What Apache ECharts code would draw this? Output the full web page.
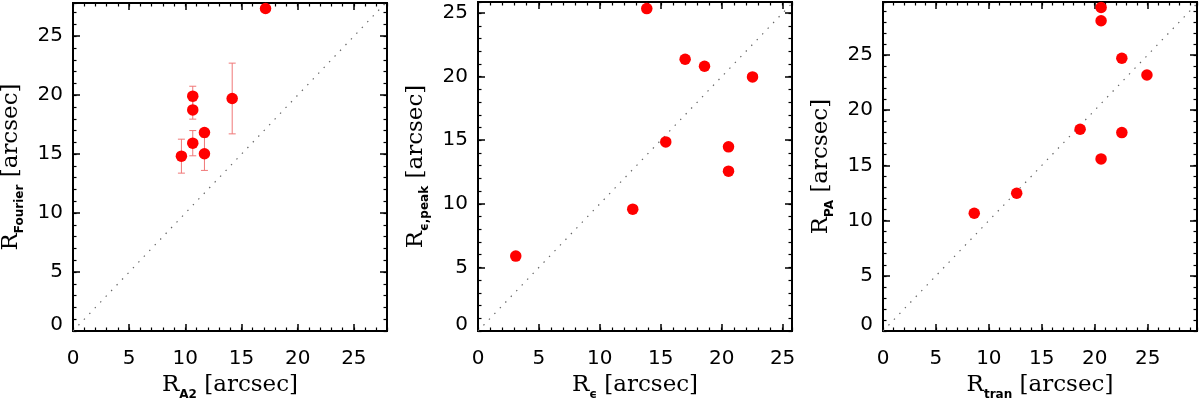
<!DOCTYPE html>
<html>
<head>
<meta charset="utf-8">
<script src="https://cdn.jsdelivr.net/npm/echarts@6/dist/echarts.min.js"></script>
<style>html,body{margin:0;padding:0;background:#fff}#c{width:1200px;height:399px}</style>
</head>
<body>
<div id="c"></div>
<script>
// ---- data ----
const p1X   = [9.65, 10.66, 10.66, 10.66, 11.70, 11.70, 14.17, 17.14];
const p1Y   = [14.83, 19.92, 18.75, 15.93, 16.84, 15.03, 19.72, 27.35];
const p1Err = [1.44, 0.84, 0.78, 1.07, 0, 1.41, 3.0, 0];

const p2X = [3.10, 12.70, 13.85, 15.41, 17.00, 18.59, 22.53, 20.56, 20.56];
const p2Y = [5.89, 9.58, 25.35, 14.87, 21.37, 20.82, 19.98, 14.48, 12.57];

const p3X = [8.62, 12.63, 18.62, 20.60, 20.60, 20.60, 22.56, 22.56, 24.93];
const p3Y = [10.67, 12.48, 18.27, 29.30, 28.10, 15.59, 24.70, 17.97, 23.19];

const xRanges = [27.95, 25.77, 29.66];
const yRanges = [27.82, 25.87, 29.80];
const majorStep = 5;
const minorStep = 1;

const xNames = ['{r|R}{s|A2}{r| [arcsec]}', '{r|R}{s|ϵ}{r| [arcsec]}', '{r|R}{s|tran}{r| [arcsec]}'];
const yNames = ['{r|R}{s|Fourier}{r| [arcsec]}', '{r|R}{s|ϵ,peak}{r| [arcsec]}', '{r|R}{s|PA}{r| [arcsec]}'];

// ---- layout ----
const grids = [
  {left: 73, top: 3, width: 314, height: 328, outerBoundsMode: 'none', containLabel: false},
  {left: 478, top: 2, width: 314, height: 329, outerBoundsMode: 'none', containLabel: false},
  {left: 883, top: 2, width: 314, height: 329, outerBoundsMode: 'none', containLabel: false}
];

const tickFont = 'DejaVu Sans';
const titleFont = 'DejaVu Serif';
const tickSize = 20;

const nameRich = {
  r: {fontFamily: titleFont, fontSize: 23, lineHeight: 30, color: '#000'},
  s: {fontFamily: tickFont, fontSize: 12, fontWeight: 'bold', lineHeight: 14, verticalAlign: 'bottom', color: '#000'}
};

function labelFmt(v) {
  if (v === 0) return '{z|0}';
  return (Math.abs(v % majorStep) < 1e-9) ? String(v) : '';
}
function xLabelFmt(v) {
  return (Math.abs(v % majorStep) < 1e-9) ? String(v) : '';
}

function makeAxes(dim, gi, max, name) {
  const isX = dim === 'x';
  const pos = isX ? ['bottom', 'top'] : ['left', 'right'];
  const base = {
    type: 'value', gridIndex: gi, min: 0, max: max,
    splitLine: {show: false},
    axisLine: {show: true, onZero: false, lineStyle: {color: '#000', width: 2}},
  };
  const arr = [];
  arr.push(Object.assign({}, base, {
    position: pos[0], interval: majorStep,
    axisTick: {show: true, inside: true, length: 7, lineStyle: {color: '#000', width: 1.5}},
    axisLabel: {
      show: true, color: '#000', fontFamily: tickFont, fontSize: tickSize,
      margin: isX ? 18 : 10,
      formatter: isX ? xLabelFmt : labelFmt,
      rich: {z: {fontFamily: tickFont, fontSize: tickSize, color: '#000', padding: [0, 0, 12, 0]}}
    },
    name: name, nameLocation: 'middle', nameGap: isX ? 14 : 47,
    nameTextStyle: {rich: nameRich, color: '#000'},
    nameRotate: isX ? 0 : 90
  }));
  arr.push(Object.assign({}, base, {
    position: pos[0], interval: minorStep,
    axisTick: {show: true, inside: true, length: 3.5, lineStyle: {color: '#000', width: 1.2}},
    axisLabel: {show: false}
  }));
  arr.push(Object.assign({}, base, {
    position: pos[1], interval: majorStep,
    axisTick: {show: true, inside: true, length: 7, lineStyle: {color: '#000', width: 1.5}},
    axisLabel: {show: false}
  }));
  arr.push(Object.assign({}, base, {
    position: pos[1], interval: minorStep,
    axisTick: {show: true, inside: true, length: 3.5, lineStyle: {color: '#000', width: 1.2}},
    axisLabel: {show: false}
  }));
  return arr;
}

const xAxes = [], yAxes = [];
for (let i = 0; i < 3; i++) {
  xAxes.push(...makeAxes('x', i, xRanges[i], xNames[i]));
  yAxes.push(...makeAxes('y', i, yRanges[i], yNames[i]));
}

const panelsX = [p1X, p2X, p3X];
const panelsY = [p1Y, p2Y, p3Y];

const series = [];
for (let i = 0; i < 3; i++) {
  const ax = {xAxisIndex: 4 * i, yAxisIndex: 4 * i};
  const lim = Math.max(xRanges[i], yRanges[i]);
  series.push(Object.assign({
    type: 'line', data: [[0, 0], [lim, lim]], showSymbol: false, silent: true, clip: true,
    lineStyle: {color: '#666', width: 1.2, type: [1.4, 6.5]}, z: 1
  }, ax));
  if (i === 0) {
    series.push(Object.assign({
      type: 'custom', z: 2, silent: true,
      data: p1X.map((x, k) => [x, p1Y[k], p1Err[k]]),
      renderItem: function (params, api) {
        const x = api.value(0), y = api.value(1), e = api.value(2);
        if (!e) return null;
        const top = api.coord([x, y + e]);
        const bot = api.coord([x, y - e]);
        const st = {stroke: '#f07878', lineWidth: 1};
        const cw = 3.5;
        return {type: 'group', children: [
          {type: 'line', shape: {x1: top[0], y1: top[1], x2: bot[0], y2: bot[1]}, style: st},
          {type: 'line', shape: {x1: top[0] - cw, y1: top[1], x2: top[0] + cw, y2: top[1]}, style: st},
          {type: 'line', shape: {x1: bot[0] - cw, y1: bot[1], x2: bot[0] + cw, y2: bot[1]}, style: st}
        ]};
      }
    }, ax));
  }
  series.push(Object.assign({
    type: 'scatter', z: 3, symbol: 'circle', symbolSize: 11.5,
    itemStyle: {color: '#ff0000', opacity: 1},
    data: panelsX[i].map((x, k) => [x, panelsY[i][k]])
  }, ax));
}

const chart = echarts.init(document.getElementById('c'), null, {renderer: 'canvas'});
chart.setOption({
  animation: false,
  backgroundColor: '#fff',
  grid: grids,
  xAxis: xAxes,
  yAxis: yAxes,
  series: series
});
</script>
</body>
</html>
